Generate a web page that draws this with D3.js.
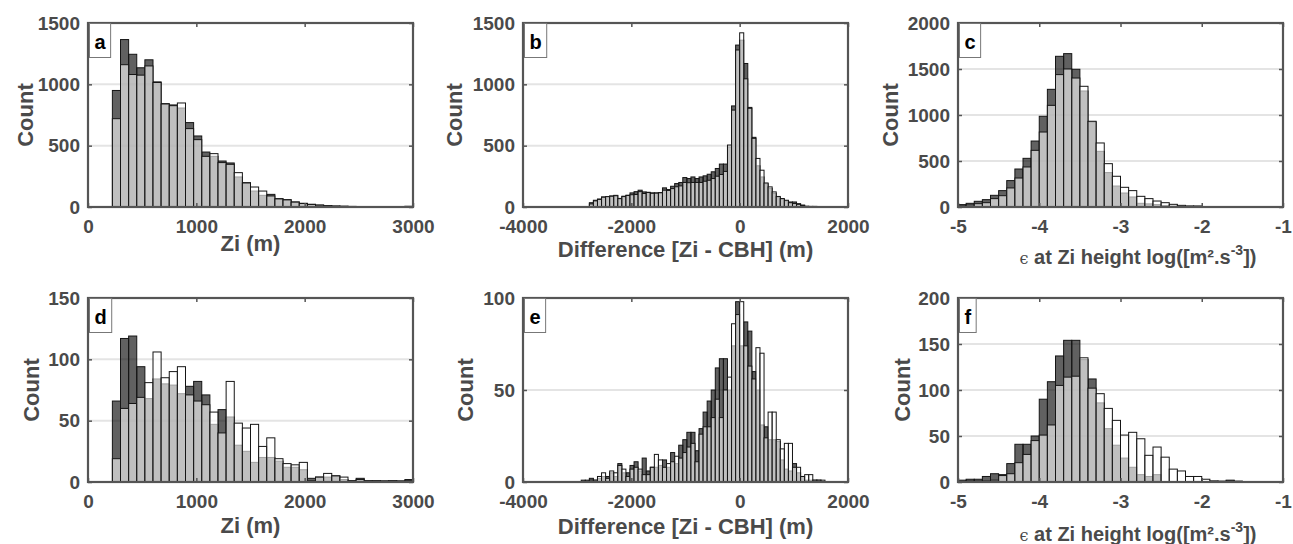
<!DOCTYPE html>
<html>
<head>
<meta charset="utf-8">
<script src="https://cdn.jsdelivr.net/npm/d3@7"></script>
<style>
  body { margin: 0; background: #fff; }
  svg { display: block; font-family: "Liberation Sans", Arial, sans-serif; }
</style>
</head>
<body>
<svg id="chart" width="1293" height="544"></svg>
<script>
// bin starts (left edges)
var ziBins = [225,300,375,450,525,600,675,750,825,900,975,1050,1125,1200,1275,1350,1425,1500,1575,1650,
  1725,1800,1875,1950,2025,2100,2175,2250,2325,2400,2475,2550,2625,2700,2775,2850,2925];
var diffBins = [-2925,-2850,-2775,-2700,-2625,-2550,-2475,-2400,-2325,-2250,-2175,-2100,-2025,-1950,-1875,
  -1800,-1725,-1650,-1575,-1500,-1425,-1350,-1275,-1200,-1125,-1050,-975,-900,-825,-750,-675,-600,-525,-450,
  -375,-300,-225,-150,-75,0,75,150,225,300,375,450,525,600,675,750,825,900,975,1050,1125,1200,1275,1350,1425,1500];
var epsBins = [-5.0,-4.9,-4.8,-4.7,-4.6,-4.5,-4.4,-4.3,-4.2,-4.1,-4.0,-3.9,-3.8,-3.7,-3.6,-3.5,-3.4,-3.3,-3.2,
  -3.1,-3.0,-2.9,-2.8,-2.7,-2.6,-2.5,-2.4,-2.3,-2.2,-2.1,-2.0,-1.9,-1.8,-1.7,-1.6];

// top row (all cases): dark series and white series
var ziDarkAll  = [950,1365,1245,1135,1200,1020,842,832,807,688,579,448,413,375,359,245,198,130,95,103,68,60,41,30,22,16,11,8,6,5,4,3,3,3,2,3,6];
var ziWhiteAll = [720,1160,1080,1075,1150,1015,840,826,848,639,549,413,435,362,348,280,196,163,130,90,66,58,40,29,21,15,10,7,6,4,4,3,2,2,2,2,3];
var diffDarkAll  = [3,4,35,55,65,82,82,90,95,70,88,96,115,125,137,123,120,115,115,118,156,142,169,191,200,240,232,245,232,245,
  254,267,287,314,350,350,490,824,1320,1360,1170,812,568,336,245,190,150,110,80,62,50,41,41,27,16,6,5,5,4,3];
var diffWhiteAll = [0,2,25,50,62,80,85,88,92,68,85,94,100,102,125,110,118,112,113,116,137,135,150,165,172,200,198,200,200,200,
  210,218,232,251,265,290,505,790,1280,1420,1045,805,560,396,300,196,164,123,86,69,55,35,28,22,12,5,4,3,2,1];
var epsDarkAll  = [26,40,62,80,127,178,287,413,529,717,986,1279,1638,1667,1497,1261,925,605,374,228,152,109,40,34,26,15,10,7,5,10,5,4,3,2,2];
var epsWhiteAll = [10,21,36,47,91,123,207,315,435,616,815,1105,1439,1500,1402,1312,932,696,471,334,214,178,116,91,65,47,29,18,12,8,4,3,2,2,1];

// bottom row (subset)
var ziDarkSub  = [66,117,119,94,68,84,80,79,72,78,82,71,47,59,53,30,25,16,20,20,17,12,12,10,3,4,4,5,2,1,3,1,1,1,1,0,2];
var ziWhiteSub = [19,60,64,69,81,106,85,90,94,71,66,63,57,40,82,48,44,47,29,36,19,15,14,16,1,4,7,5,4,1,2,1,1,0,1,1,1];
var diffDarkSub  = [1,1,2,1,2,3,3,5,3,10,5,5,9,11,6,13,6,8,8,9,12,8,16,10,20,23,27,27,17,29,
  38,44,50,62,67,67,50,74,98,74,87,82,60,50,31,30,23,23,22,12,7,6,10,5,3,1,1,1,1,0];
var diffWhiteSub = [0,0,1,1,3,5,2,6,5,9,7,3,7,8,7,4,4,8,15,12,8,10,11,14,13,16,19,21,11,26,
  30,30,35,45,35,50,57,86,91,98,74,63,56,73,70,24,38,38,23,18,21,21,8,8,3,4,4,1,1,1];
var epsDarkSub  = [2,3,3,6,9,8,20,41,41,50,90,109,137,154,154,133,112,86,58,40,26,16,8,6,8,0,0,0,0,0,0,1,1,2,1];
var epsWhiteSub = [0,1,1,1,2,7,9,21,30,45,51,62,105,114,115,135,102,96,80,67,51,54,47,29,38,27,14,12,6,6,3,1,0,1,0];

var ziTicks = [0,1000,2000,3000];
var diffTicks = [-4000,-2000,0,2000];
var epsTicks = [-5,-4,-3,-2,-1];

var svg = d3.select("#chart");
var axisCol = "#555", textCol = "#4a4a4a";
var W = 325, H = 184;

var panels = [
  {letter:"a", bins:ziBins, bw:75, dark:ziDarkAll, white:ziWhiteAll, xdom:[0,3000], xt:ziTicks,
   yt:[0,500,1000,1500], left:88, top:23, xlab:"Zi (m)", xlabDy:44, countX:33},
  {letter:"b", bins:diffBins, bw:75, dark:diffDarkAll, white:diffWhiteAll, xdom:[-4000,2000], xt:diffTicks,
   yt:[0,500,1000,1500], left:523, top:23, xlab:"Difference [Zi - CBH] (m)", xlabDy:50, countX:462},
  {letter:"c", bins:epsBins, bw:0.1, dark:epsDarkAll, white:epsWhiteAll, xdom:[-5,-1], xt:epsTicks,
   yt:[0,500,1000,1500,2000], left:958, top:23, xlab:"eps", xlabDy:57, countX:898},
  {letter:"d", bins:ziBins, bw:75, dark:ziDarkSub, white:ziWhiteSub, xdom:[0,3000], xt:ziTicks,
   yt:[0,50,100,150], left:88, top:298, xlab:"Zi (m)", xlabDy:51, countX:39},
  {letter:"e", bins:diffBins, bw:75, dark:diffDarkSub, white:diffWhiteSub, xdom:[-4000,2000], xt:diffTicks,
   yt:[0,50,100], left:523, top:298, xlab:"Difference [Zi - CBH] (m)", xlabDy:52, countX:473},
  {letter:"f", bins:epsBins, bw:0.1, dark:epsDarkSub, white:epsWhiteSub, xdom:[-5,-1], xt:epsTicks,
   yt:[0,50,100,150,200], left:958, top:298, xlab:"eps", xlabDy:59, countX:910}
];

function styleAxis(sel, labels) {
  sel.select(".domain").remove();
  sel.selectAll(".tick line").attr("stroke", axisCol).attr("stroke-width", 1.5);
  sel.selectAll(".tick text")
    .attr("fill", textCol)
    .style("font-size", "19px")
    .style("font-weight", "bold")
    .style("font-family", '"Liberation Sans", Arial, sans-serif');
  if (!labels) sel.selectAll(".tick text").remove();
}

panels.forEach(function(p) {
  var x = d3.scaleLinear().domain(p.xdom).range([p.left, p.left + W]);
  var y = d3.scaleLinear().domain([0, p.yt[p.yt.length - 1]]).range([p.top + H, p.top]);
  var g = svg.append("g");

  // grid
  g.selectAll(".grid").data(p.yt.slice(1, -1)).join("line")
    .attr("x1", p.left).attr("x2", p.left + W)
    .attr("y1", function(d) { return y(d); }).attr("y2", function(d) { return y(d); })
    .attr("stroke", "#e4e4e4").attr("stroke-width", 2);

  function bars(vals, fill, op) {
    var data = p.bins.map(function(b, i) { return {x0: b, v: vals[i]}; })
      .filter(function(d) { return d.v > 0; });
    g.append("g").selectAll("rect").data(data).join("rect")
      .attr("x", function(d) { return x(d.x0); })
      .attr("width", function(d) { return x(d.x0 + p.bw) - x(d.x0); })
      .attr("y", function(d) { return y(d.v); })
      .attr("height", function(d) { return y(0) - y(d.v); })
      .attr("fill", fill).attr("fill-opacity", op)
      .attr("stroke", "#151515").attr("stroke-width", 1);
  }
  bars(p.dark, "#000", 0.62);
  bars(p.white, "#fff", 0.6);

  var fmt = function(d) { return String(d); };
  g.append("g").attr("transform", "translate(0," + (p.top + H) + ")")
    .call(d3.axisBottom(x).tickValues(p.xt).tickFormat(fmt).tickSize(-4).tickPadding(12.5))
    .call(styleAxis, true);
  g.append("g").attr("transform", "translate(0," + p.top + ")")
    .call(d3.axisTop(x).tickValues(p.xt).tickSize(-4))
    .call(styleAxis, false);
  g.append("g").attr("transform", "translate(" + p.left + ",0)")
    .call(d3.axisLeft(y).tickValues(p.yt).tickFormat(fmt).tickSize(-4).tickPadding(8))
    .call(styleAxis, true);
  g.append("g").attr("transform", "translate(" + (p.left + W) + ",0)")
    .call(d3.axisRight(y).tickValues(p.yt).tickSize(-4))
    .call(styleAxis, false);

  g.append("rect").attr("x", p.left).attr("y", p.top).attr("width", W).attr("height", H)
    .attr("fill", "none").attr("stroke", axisCol).attr("stroke-width", 2.2);

  // y label
  g.append("text")
    .attr("transform", "translate(" + p.countX + "," + (p.top + H / 2) + ") rotate(-90)")
    .attr("text-anchor", "middle").attr("fill", textCol)
    .style("font-size", "22px").style("font-weight", "bold").text("Count");

  // x label
  var xl = g.append("text").attr("fill", textCol)
    .style("font-size", "22px").style("font-weight", "bold")
    .attr("y", p.top + H + p.xlabDy);
  if (p.xlab === "eps") {
    xl.attr("x", p.left + 180).attr("text-anchor", "middle").style("font-size", "20px");
    xl.append("tspan").style("font-family", '"DejaVu Serif", serif').style("font-weight", "normal")
      .style("font-size", "16px").text("\u03F5");
    xl.append("tspan").text(" at Zi height log([m\u00B2.s");
    xl.append("tspan").attr("dy", -9).style("font-size", "14px").text("-3");
    xl.append("tspan").attr("dy", 9).text("])");
  } else {
    xl.attr("x", p.left + W / 2).attr("text-anchor", "middle").text(p.xlab);
  }

  // panel letter
  var lb = g.append("g");
  var rect = lb.append("rect").attr("x", p.left + 1.5).attr("y", p.top + 0.5).attr("height", 34)
    .attr("fill", "#fff").attr("stroke", "#777").attr("stroke-width", 1);
  var lt = lb.append("text").attr("x", p.left + 6.5).attr("y", p.top + 26)
    .attr("fill", "#000").style("font-size", "20px").style("font-weight", "bold").text(p.letter);
  rect.attr("width", lt.node().getComputedTextLength() + 10);
});
</script>
</body>
</html>
